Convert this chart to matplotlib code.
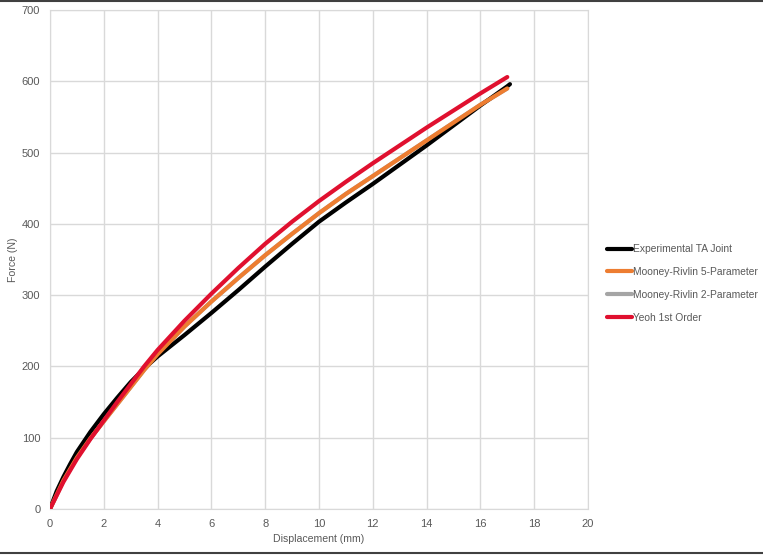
import matplotlib
matplotlib.use("Agg")
import matplotlib.pyplot as plt
from matplotlib.lines import Line2D

plt.rcParams['font.family'] = ['Liberation Sans', 'DejaVu Sans']

# displacement (mm) / force (N)
exp_x = [0, 0.25, 0.5, 0.75, 1, 1.5, 2, 2.5, 3, 3.5, 4, 5, 6, 7, 8, 9, 10,
         11, 12, 13, 14, 15, 16, 17, 17.1]
exp_f = [0, 25, 45, 63, 80, 108, 133, 156, 178, 197, 214, 244, 275, 307, 340,
         372, 403, 430, 456, 483, 510, 538, 566, 593, 596]

fit_x = [0, 0.5, 1, 1.5, 2, 2.5, 3, 3.5, 4, 5, 6, 7, 8, 9, 10, 11, 12, 13,
         14, 15, 16, 17]
mr5_f = [0, 40, 72, 99, 123, 147, 171, 195, 217, 256, 291, 324, 356, 386,
         415, 442, 467, 492, 517, 542, 567, 590]
mr2_f = [0, 40, 72, 99, 123, 147, 171, 195, 217, 256, 291, 324, 356, 386,
         415, 442, 467, 492, 517, 542, 567, 590]
yeoh_f = [0, 38, 70, 98, 124, 150, 175, 200, 223, 264, 302, 338, 372, 403,
          432, 459, 485, 510, 535, 559, 583, 606]

labels = ['Experimental TA Joint', 'Mooney-Rivlin 5-Parameter',
          'Mooney-Rivlin 2-Parameter', 'Yeoh 1st Order']

fig = plt.figure(figsize=(7.63, 5.57), dpi=100)
ax = fig.add_axes([0.0655, 0.0862, 0.7051, 0.8958])

lw = 3
h_mr2, = ax.plot(fit_x, mr2_f, color='#a5a5a5', lw=lw, solid_capstyle='round', zorder=2)
h_exp, = ax.plot(exp_x, exp_f, color='#000000', lw=lw, solid_capstyle='round', zorder=3)
h_mr5, = ax.plot(fit_x, mr5_f, color='#ed7d31', lw=lw, solid_capstyle='round', zorder=4)
h_yeoh, = ax.plot(fit_x, yeoh_f, color='#e0102f', lw=lw, solid_capstyle='round', zorder=5)

ax.set_xlim(0, 20)
ax.set_ylim(0, 700)
ax.set_xticks(range(0, 21, 2))
ax.set_yticks(range(0, 701, 100))
ax.grid(True, color='#d9d9d9', lw=1)
ax.set_axisbelow(True)
for s in ax.spines.values():
    s.set_color('#d9d9d9')
ax.tick_params(length=0, labelsize=8, colors='#595959', pad=7)

ax.set_xlabel('Displacement (mm)', fontsize=7.6, color='#595959', labelpad=4)
ax.set_ylabel('Force (N)', fontsize=7.6, color='#595959', labelpad=3)

leg = fig.legend([h_exp, h_mr5, h_mr2, h_yeoh], labels,
                 loc='center left', bbox_to_anchor=(0.784, 0.491),
                 frameon=False, fontsize=7.4, handlelength=2.4,
                 handletextpad=0.05, labelspacing=1.25)
for t in leg.get_texts():
    t.set_color('#595959')

# thin dark border lines at top and bottom of the picture
fig.add_artist(Line2D([0, 1], [0.999, 0.999], color='#404040', lw=1.5))
fig.add_artist(Line2D([0, 1], [0.007, 0.007], color='#404040', lw=1.5))

fig.savefig('out.png', dpi=100)
